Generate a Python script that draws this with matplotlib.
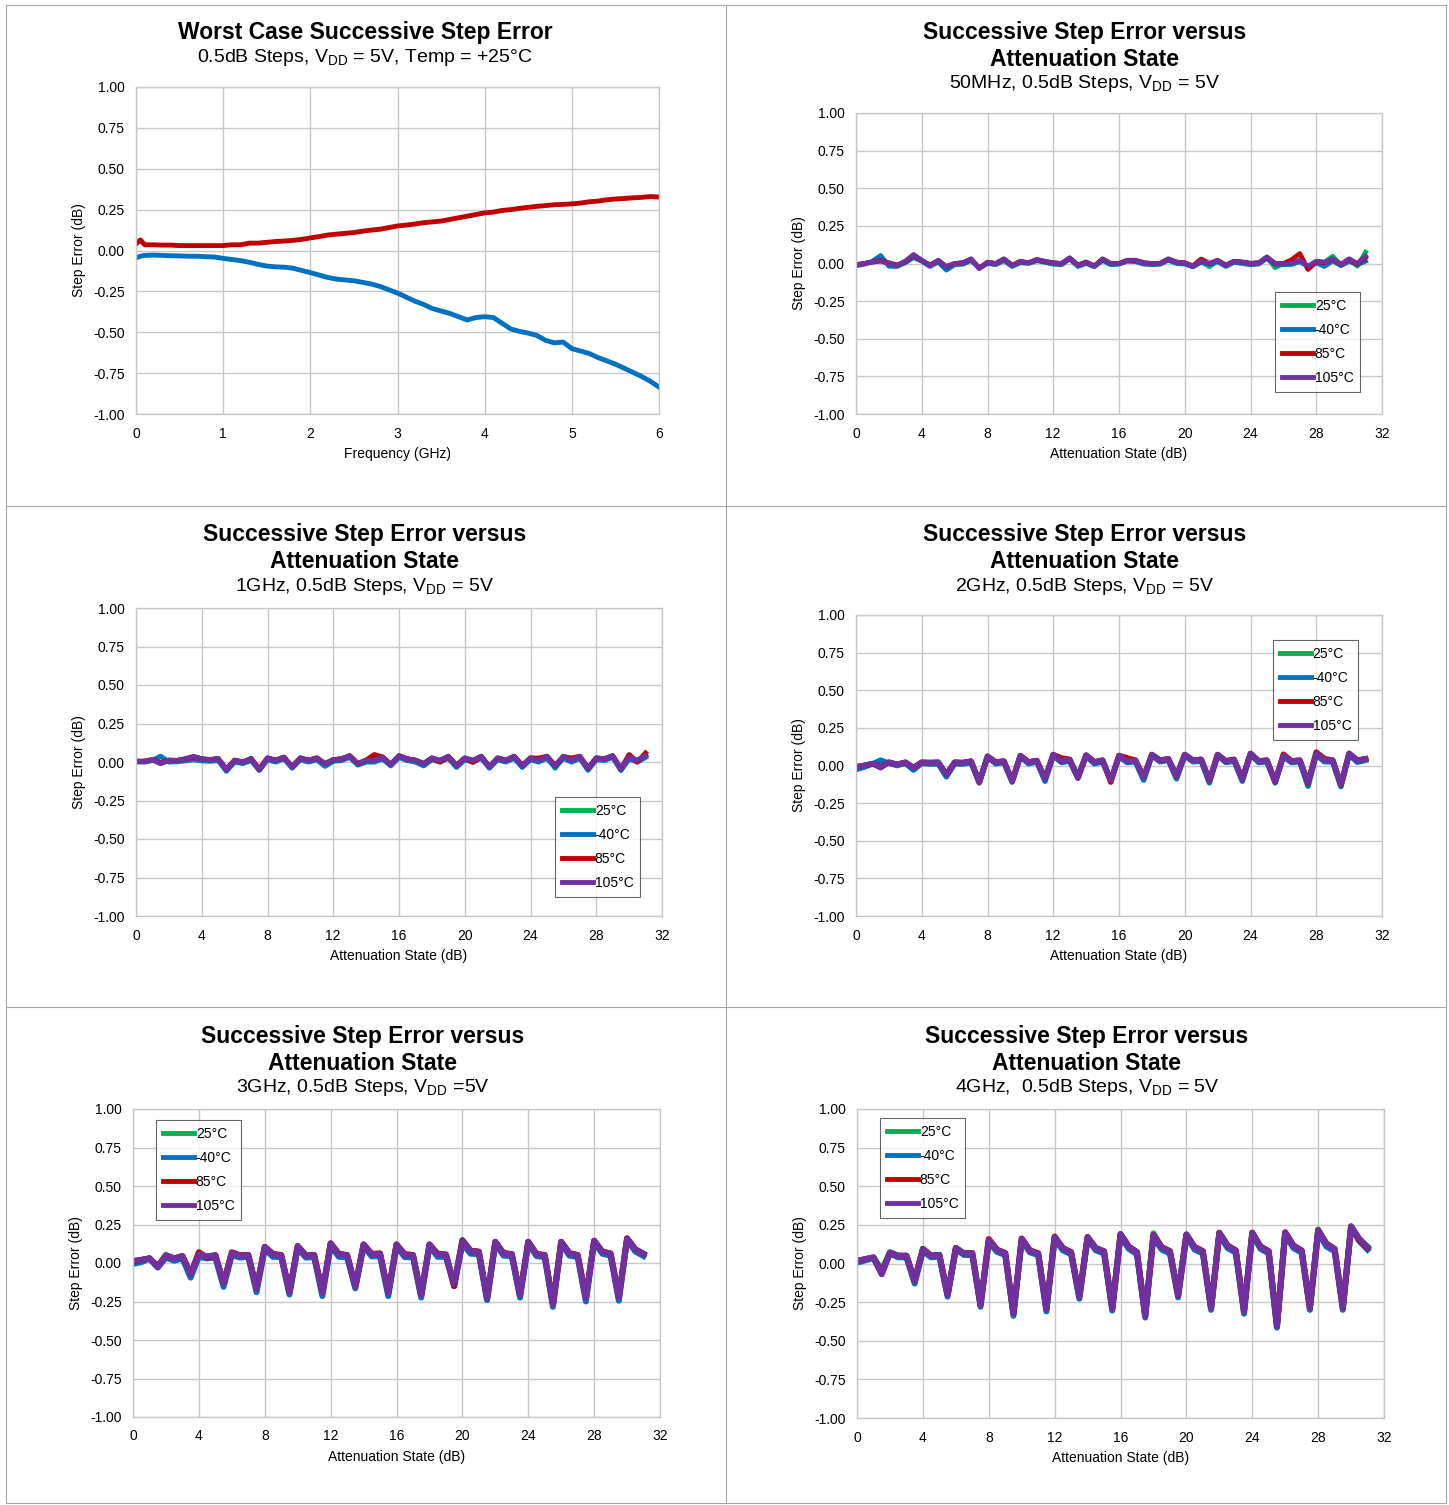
"""
Six-panel step-error figure: worst case vs frequency, then successive
step error vs attenuation state at 50MHz / 1GHz / 2GHz / 3GHz / 4GHz.
"""
import matplotlib

matplotlib.use("Agg")
import matplotlib.pyplot as plt  # noqa: E402
import numpy as np  # noqa: E402
from matplotlib.lines import Line2D  # noqa: E402

plt.rcParams["font.family"] = ["Liberation Sans", "DejaVu Sans"]
plt.rcParams["mathtext.fontset"] = "custom"
plt.rcParams["mathtext.rm"] = "Liberation Sans"

# ---- worst case vs frequency ----
freq_ghz = [0.0, 0.05] + [round(0.1 * i, 1) for i in range(1, 61)]
worst_pos = [0.04, 0.065,
             0.035, 0.035, 0.033, 0.033, 0.03, 0.03, 0.03, 0.03, 0.03, 0.03,
             0.035, 0.035, 0.045, 0.045, 0.05, 0.055, 0.058, 0.062, 0.068, 0.077,
             0.085, 0.095, 0.1, 0.105, 0.11, 0.118, 0.125, 0.13, 0.14, 0.15,
             0.155, 0.162, 0.17, 0.175, 0.18, 0.19, 0.2, 0.21, 0.22, 0.23,
             0.235, 0.245, 0.25, 0.258, 0.264, 0.27, 0.275, 0.28, 0.282, 0.285,
             0.29, 0.298, 0.302, 0.31, 0.315, 0.318, 0.322, 0.325, 0.33, 0.327]
worst_neg = [-0.045, -0.035,
             -0.03, -0.028, -0.03, -0.032, -0.033, -0.035, -0.035, -0.038, -0.04, -0.048,
             -0.055, -0.062, -0.072, -0.085, -0.095, -0.1, -0.102, -0.108, -0.122, -0.135,
             -0.15, -0.165, -0.175, -0.18, -0.185, -0.195, -0.205, -0.22, -0.24, -0.26,
             -0.285, -0.31, -0.33, -0.355, -0.37, -0.385, -0.405, -0.425, -0.41, -0.405,
             -0.41, -0.445, -0.48, -0.495, -0.505, -0.52, -0.55, -0.565, -0.56, -0.6,
             -0.615, -0.63, -0.655, -0.675, -0.695, -0.72, -0.745, -0.77, -0.8, -0.835]

# ---- attenuation state sweeps (0 .. 31 dB, 0.5 dB steps) ----
atten_db = np.arange(0, 31.5, 0.5)
temps = ["25°C", "-40°C", "85°C", "105°C"]
temp_colors = ["#00B050", "#0070C0", "#C00000", "#7030A0"]

mhz50_25 = [-0.008, 0.0, 0.01, 0.02, 0.002, -0.012, 0.015, 0.055,
            0.02, -0.012, 0.02, -0.025, 0.0, 0.004, 0.03, -0.03,
            0.008, 0.0, 0.03, -0.012, 0.014, 0.004, 0.026, 0.014,
            0.004, 0.0, 0.036, -0.012, 0.008, -0.018, 0.03, 0.0,
            0.0, 0.02, 0.02, 0.004, 0.0, 0.0, 0.03, 0.008,
            0.004, -0.022, 0.015, -0.022, 0.02, -0.014, 0.014, 0.008,
            0.0, 0.004, 0.042, -0.028, 0.0, 0.0, 0.02, -0.02,
            0.014, 0.008, 0.048, -0.01, 0.03, -0.018, 0.075]
mhz50_m40 = [-0.015, -0.005, 0.015, 0.053, -0.018, -0.02, 0.005, 0.04,
             0.015, -0.02, 0.01, -0.044, -0.008, -0.005, 0.02, -0.03,
             0.0, -0.008, 0.02, -0.02, 0.005, 0.0, 0.018, 0.008,
             -0.005, -0.008, 0.03, -0.02, 0.0, -0.022, 0.02, -0.008,
             -0.005, 0.015, 0.012, -0.004, -0.008, -0.005, 0.022, 0.0,
             -0.004, -0.022, 0.008, -0.008, 0.012, -0.02, 0.008, 0.0,
             -0.008, -0.004, 0.035, -0.01, -0.008, -0.006, 0.012, -0.02,
             0.004, -0.02, 0.018, -0.015, 0.015, -0.008, 0.015]
mhz50_85 = [-0.01, 0.0, 0.01, 0.02, 0.005, -0.01, 0.012, 0.055,
            0.02, -0.01, 0.018, -0.02, 0.0, 0.005, 0.028, -0.03,
            0.008, 0.0, 0.028, -0.01, 0.012, 0.005, 0.025, 0.012,
            0.005, 0.0, 0.035, -0.01, 0.01, -0.015, 0.028, 0.0,
            0.0, 0.02, 0.02, 0.005, 0.0, 0.002, 0.028, 0.01,
            0.005, -0.015, 0.03, 0.0, 0.02, -0.01, 0.015, 0.01,
            0.002, 0.005, 0.04, 0.0, 0.0, 0.025, 0.066, -0.04,
            0.012, 0.005, 0.028, -0.005, 0.028, -0.005, 0.04]
mhz50_105 = [-0.007, 0.0, 0.009, 0.015, 0.0, -0.013, 0.015, 0.06,
             0.022, -0.013, 0.022, -0.022, 0.0, 0.004, 0.031, -0.035,
             0.009, 0.0, 0.031, -0.013, 0.015, 0.004, 0.027, 0.015,
             0.004, 0.0, 0.038, -0.013, 0.009, -0.018, 0.031, 0.0,
             0.0, 0.022, 0.022, 0.004, 0.0, 0.0, 0.031, 0.009,
             0.004, -0.018, 0.015, 0.0, 0.022, -0.013, 0.015, 0.009,
             0.0, 0.004, 0.044, 0.0, 0.0, 0.0, 0.022, -0.018,
             0.015, 0.009, 0.031, -0.007, 0.031, 0.0, 0.049]

ghz1_25 = [0.004, 0.004, 0.015, -0.008, 0.011, 0.009, 0.02, 0.032,
           0.02, 0.015, 0.022, -0.048, 0.011, -0.002, 0.022, -0.048,
           0.026, 0.011, 0.03, -0.03, 0.026, 0.011, 0.026, -0.012,
           0.015, 0.02, 0.04, -0.012, 0.011, 0.02, 0.032, -0.016,
           0.04, 0.02, 0.011, -0.012, 0.026, 0.011, 0.036, -0.024,
           0.026, 0.011, 0.036, -0.032, 0.026, 0.011, 0.036, -0.026,
           0.026, 0.011, 0.036, -0.04, 0.036, 0.011, 0.036, -0.04,
           0.026, 0.02, 0.04, -0.045, 0.032, 0.011, 0.045]
ghz1_m40 = [0.0, 0.0, 0.01, 0.037, 0.0, 0.002, 0.008, 0.015,
            0.008, 0.005, 0.01, -0.06, 0.0, -0.01, 0.01, -0.055,
            0.015, 0.0, 0.022, -0.04, 0.015, 0.0, 0.015, -0.028,
            0.005, 0.01, 0.03, -0.02, 0.0, 0.0, 0.02, -0.025,
            0.03, 0.01, 0.0, -0.025, 0.015, 0.0, 0.025, -0.035,
            0.015, 0.0, 0.025, -0.04, 0.015, 0.0, 0.025, -0.035,
            0.015, 0.0, 0.025, -0.035, 0.025, 0.0, 0.025, -0.054,
            0.015, 0.01, 0.03, -0.055, 0.02, 0.0, 0.03]
ghz1_85 = [0.005, 0.005, 0.015, -0.005, 0.012, 0.01, 0.02, 0.03,
           0.02, 0.015, 0.022, -0.045, 0.012, 0.0, 0.022, -0.045,
           0.026, 0.012, 0.03, -0.03, 0.026, 0.012, 0.026, -0.01,
           0.015, 0.02, 0.04, -0.01, 0.012, 0.048, 0.032, -0.015,
           0.04, 0.02, 0.012, -0.01, 0.026, 0.0, 0.035, -0.02,
           0.026, -0.002, 0.037, -0.03, 0.026, 0.012, 0.037, -0.02,
           0.026, 0.025, 0.037, -0.022, 0.035, 0.025, 0.037, -0.04,
           0.026, 0.02, 0.04, -0.045, 0.048, 0.0, 0.058]
ghz1_105 = [0.004, 0.004, 0.015, -0.011, 0.011, 0.009, 0.02, 0.037,
            0.02, 0.015, 0.022, -0.05, 0.011, -0.002, 0.022, -0.05,
            0.026, 0.011, 0.032, -0.032, 0.026, 0.011, 0.026, -0.011,
            0.015, 0.02, 0.041, -0.011, 0.011, 0.011, 0.032, -0.017,
            0.041, 0.02, 0.011, -0.011, 0.026, 0.011, 0.037, -0.024,
            0.026, 0.011, 0.037, -0.032, 0.026, 0.011, 0.037, -0.024,
            0.026, 0.011, 0.037, -0.024, 0.037, 0.011, 0.037, -0.039,
            0.026, 0.02, 0.041, -0.045, 0.032, 0.011, 0.041]

ghz2_25 = [-0.01, 0.0, 0.012, -0.005, 0.021, 0.007, 0.021, -0.014,
           0.021, 0.018, 0.021, -0.06, 0.021, 0.018, 0.028, -0.11,
           0.061, 0.022, 0.028, -0.104, 0.065, 0.022, 0.032, -0.09,
           0.072, 0.03, 0.04, -0.076, 0.068, 0.022, 0.034, -0.1,
           0.065, 0.03, 0.034, -0.078, 0.072, 0.034, 0.044, -0.068,
           0.072, 0.034, 0.04, -0.1, 0.072, 0.03, 0.04, -0.09,
           0.078, 0.03, 0.034, -0.106, 0.066, 0.03, 0.034, -0.115,
           0.08, 0.035, 0.034, -0.13, 0.08, 0.034, 0.044]
ghz2_m40 = [-0.027, -0.01, 0.01, 0.035, 0.015, 0.0, 0.015, -0.03,
            0.015, 0.01, 0.012, -0.075, 0.012, 0.01, 0.02, -0.115,
            0.055, 0.012, 0.02, -0.11, 0.058, 0.012, 0.025, -0.104,
            0.066, 0.02, 0.03, -0.085, 0.062, 0.012, 0.025, -0.1,
            0.058, 0.02, 0.025, -0.097, 0.066, 0.025, 0.035, -0.088,
            0.066, 0.025, 0.03, -0.115, 0.066, 0.02, 0.03, -0.104,
            0.072, 0.02, 0.025, -0.115, 0.058, 0.02, 0.025, -0.137,
            0.072, 0.025, 0.025, -0.14, 0.072, 0.022, 0.035]
ghz2_85 = [-0.008, 0.0, 0.012, -0.01, 0.02, 0.008, 0.02, -0.012,
           0.02, 0.02, 0.02, -0.058, 0.02, 0.02, 0.028, -0.112,
           0.06, 0.024, 0.028, -0.1, 0.064, 0.024, 0.032, -0.085,
           0.072, 0.05, 0.04, -0.08, 0.068, 0.024, 0.035, -0.11,
           0.066, 0.05, 0.035, -0.075, 0.072, 0.035, 0.044, -0.07,
           0.072, 0.035, 0.04, -0.1, 0.072, 0.03, 0.04, -0.09,
           0.08, 0.03, 0.035, -0.108, 0.075, 0.03, 0.035, -0.115,
           0.089, 0.045, 0.035, -0.128, 0.08, 0.035, 0.044]
ghz2_105 = [-0.01, 0.0, 0.013, -0.015, 0.022, 0.007, 0.022, -0.015,
            0.022, 0.018, 0.022, -0.06, 0.022, 0.018, 0.029, -0.11,
            0.062, 0.022, 0.029, -0.104, 0.066, 0.022, 0.033, -0.088,
            0.073, 0.029, 0.04, -0.075, 0.069, 0.022, 0.035, -0.097,
            0.066, 0.029, 0.035, -0.075, 0.073, 0.035, 0.044, -0.066,
            0.073, 0.035, 0.04, -0.097, 0.073, 0.029, 0.04, -0.088,
            0.08, 0.029, 0.035, -0.104, 0.066, 0.029, 0.035, -0.11,
            0.08, 0.035, 0.035, -0.126, 0.08, 0.035, 0.044]

ghz3_25 = [0.012, 0.02, 0.03, -0.024, 0.05, 0.028, 0.045, -0.075,
           0.058, 0.042, 0.05, -0.135, 0.066, 0.048, 0.05, -0.168,
           0.104, 0.054, 0.05, -0.192, 0.11, 0.046, 0.05, -0.195,
           0.126, 0.056, 0.05, -0.152, 0.12, 0.056, 0.06, -0.198,
           0.12, 0.05, 0.05, -0.212, 0.12, 0.054, 0.054, -0.14,
           0.15, 0.08, 0.072, -0.24, 0.137, 0.06, 0.056, -0.212,
           0.137, 0.056, 0.05, -0.272, 0.137, 0.06, 0.05, -0.232,
           0.143, 0.072, 0.06, -0.228, 0.159, 0.087, 0.058]
ghz3_m40 = [-0.005, 0.005, 0.03, -0.03, 0.035, 0.015, 0.03, -0.095,
            0.04, 0.03, 0.035, -0.155, 0.05, 0.035, 0.04, -0.19,
            0.09, 0.04, 0.038, -0.205, 0.095, 0.035, 0.038, -0.215,
            0.11, 0.04, 0.038, -0.165, 0.108, 0.042, 0.045, -0.215,
            0.108, 0.038, 0.038, -0.225, 0.108, 0.04, 0.04, -0.15,
            0.125, 0.06, 0.058, -0.24, 0.125, 0.048, 0.045, -0.225,
            0.125, 0.045, 0.038, -0.285, 0.125, 0.048, 0.038, -0.25,
            0.135, 0.06, 0.048, -0.245, 0.15, 0.075, 0.045]
ghz3_85 = [0.01, 0.02, 0.03, -0.02, 0.05, 0.03, 0.045, -0.07,
           0.07, 0.035, 0.05, -0.13, 0.07, 0.05, 0.052, -0.165,
           0.105, 0.06, 0.052, -0.185, 0.11, 0.05, 0.052, -0.19,
           0.128, 0.06, 0.052, -0.15, 0.12, 0.06, 0.062, -0.19,
           0.12, 0.058, 0.052, -0.205, 0.12, 0.06, 0.056, -0.15,
           0.145, 0.08, 0.074, -0.225, 0.138, 0.065, 0.058, -0.205,
           0.138, 0.06, 0.052, -0.265, 0.138, 0.065, 0.052, -0.225,
           0.145, 0.075, 0.062, -0.22, 0.16, 0.09, 0.06]
ghz3_105 = [0.013, 0.02, 0.03, -0.026, 0.05, 0.028, 0.045, -0.074,
            0.056, 0.043, 0.05, -0.135, 0.065, 0.048, 0.05, -0.167,
            0.104, 0.054, 0.05, -0.19, 0.109, 0.046, 0.05, -0.193,
            0.126, 0.056, 0.05, -0.152, 0.12, 0.056, 0.06, -0.196,
            0.12, 0.05, 0.05, -0.21, 0.12, 0.054, 0.054, -0.135,
            0.137, 0.076, 0.072, -0.23, 0.137, 0.06, 0.056, -0.21,
            0.137, 0.056, 0.05, -0.27, 0.137, 0.06, 0.05, -0.23,
            0.143, 0.072, 0.06, -0.226, 0.159, 0.087, 0.056]

ghz4_25 = [0.017, 0.028, 0.039, -0.04, 0.072, 0.05, 0.05, -0.113,
           0.093, 0.05, 0.056, -0.204, 0.1, 0.065, 0.067, -0.27,
           0.152, 0.087, 0.067, -0.34, 0.159, 0.083, 0.065, -0.298,
           0.17, 0.098, 0.072, -0.217, 0.17, 0.098, 0.078, -0.293,
           0.19, 0.109, 0.072, -0.34, 0.195, 0.104, 0.078, -0.2,
           0.187, 0.104, 0.078, -0.29, 0.198, 0.115, 0.083, -0.31,
           0.198, 0.109, 0.078, -0.407, 0.2, 0.115, 0.083, -0.287,
           0.22, 0.126, 0.093, -0.287, 0.24, 0.159, 0.11]
ghz4_m40 = [0.005, 0.02, 0.035, -0.065, 0.065, 0.04, 0.04, -0.13,
            0.08, 0.04, 0.045, -0.215, 0.09, 0.055, 0.055, -0.28,
            0.14, 0.075, 0.055, -0.33, 0.148, 0.072, 0.055, -0.31,
            0.158, 0.085, 0.06, -0.228, 0.158, 0.085, 0.065, -0.305,
            0.178, 0.095, 0.06, -0.35, 0.172, 0.09, 0.065, -0.22,
            0.175, 0.09, 0.065, -0.3, 0.185, 0.1, 0.07, -0.325,
            0.185, 0.095, 0.065, -0.415, 0.188, 0.1, 0.07, -0.3,
            0.2, 0.11, 0.08, -0.3, 0.228, 0.145, 0.09]
ghz4_85 = [0.015, 0.028, 0.039, -0.06, 0.07, 0.05, 0.05, -0.11,
           0.095, 0.05, 0.056, -0.2, 0.1, 0.065, 0.067, -0.265,
           0.158, 0.09, 0.068, -0.32, 0.162, 0.085, 0.066, -0.29,
           0.175, 0.1, 0.074, -0.21, 0.172, 0.1, 0.08, -0.29,
           0.19, 0.11, 0.074, -0.335, 0.186, 0.106, 0.08, -0.205,
           0.188, 0.108, 0.08, -0.285, 0.2, 0.116, 0.085, -0.305,
           0.2, 0.11, 0.08, -0.4, 0.202, 0.116, 0.085, -0.285,
           0.215, 0.13, 0.095, -0.285, 0.24, 0.15, 0.1]
ghz4_105 = [0.017, 0.028, 0.039, -0.07, 0.072, 0.05, 0.05, -0.113,
            0.093, 0.05, 0.056, -0.204, 0.1, 0.065, 0.067, -0.27,
            0.152, 0.087, 0.067, -0.326, 0.159, 0.083, 0.065, -0.298,
            0.17, 0.098, 0.072, -0.217, 0.17, 0.098, 0.078, -0.293,
            0.19, 0.109, 0.072, -0.34, 0.185, 0.104, 0.078, -0.2,
            0.187, 0.104, 0.078, -0.29, 0.198, 0.115, 0.083, -0.31,
            0.198, 0.109, 0.078, -0.407, 0.2, 0.115, 0.083, -0.287,
            0.213, 0.126, 0.093, -0.287, 0.24, 0.159, 0.104]

W, H = 1449, 1505
GRID = "#C8C8C8"
SUB = r"V$_{\mathregular{DD}}$"


def px_axes(fig, x0, y0, x1, y1):
    """Add axes from pixel box (top-left origin)."""
    return fig.add_axes([x0 / W, 1 - y1 / H, (x1 - x0) / W, (y1 - y0) / H])


def style_axes(ax, xticks, xlabel):
    ax.set_ylim(-1, 1)
    ax.set_yticks(np.arange(-1, 1.01, 0.25))
    ax.set_yticklabels([f"{v:.2f}" for v in np.arange(-1, 1.01, 0.25)])
    ax.set_xlim(xticks[0], xticks[-1])
    ax.set_xticks(xticks)
    ax.grid(True, color=GRID, lw=1.0)
    ax.set_axisbelow(True)
    for s in ax.spines.values():
        s.set_color(GRID)
        s.set_linewidth(1.0)
    ax.tick_params(axis="y", length=0, labelsize=10, pad=8)
    ax.tick_params(axis="x", length=0, labelsize=10, pad=9)
    ax.set_xlabel(xlabel, fontsize=10, labelpad=5)
    ax.set_ylabel("Step Error (dB)", fontsize=10, labelpad=5)


def titles(fig, xc, ys, lines):
    for y, (txt, bold) in zip(ys, lines):
        fig.text(xc / W, 1 - y / H, txt, ha="center", va="center",
                 fontsize=16.5 if bold else 14,
                 fontweight="bold" if bold else "normal")


def temp_panel(fig, box, series, lw, leg_anchor):
    ax = px_axes(fig, *box)
    for vals, lab, col in zip(series, temps, temp_colors):
        ax.plot(atten_db, vals, color=col, lw=lw, label=lab,
                solid_joinstyle="round")
    style_axes(ax, list(range(0, 33, 4)), "Attenuation State (dB)")
    leg = ax.legend(loc="upper left", bbox_to_anchor=leg_anchor, fontsize=10,
                    fancybox=False, handlelength=2.2, handletextpad=0.15,
                    labelspacing=0.72, borderpad=0.5, borderaxespad=0)
    leg.get_frame().set_edgecolor("#404040")
    leg.get_frame().set_linewidth(0.8)
    for h in leg.get_lines():
        h.set_linewidth(3.5)
    return ax


fig = plt.figure(figsize=(W / 100, H / 100), dpi=100)

# panel 1: worst case vs frequency
ax1 = px_axes(fig, 136, 87, 659, 414)
ax1.plot(freq_ghz, worst_pos, color="#C00000", lw=3.5)
ax1.plot(freq_ghz, worst_neg, color="#0070C0", lw=3.5)
style_axes(ax1, list(range(0, 7)), "Frequency (GHz)")
titles(fig, 365, [33, 58], [("Worst Case Successive Step Error", True),
                            (f"0.5dB Steps, {SUB} = 5V, Temp = +25°C", False)])

head = ("Successive Step Error versus", True)
head2 = ("Attenuation State", True)

temp_panel(fig, (856, 113, 1382, 414),
           [mhz50_25, mhz50_m40, mhz50_85, mhz50_105], 3.4, (0.797, 0.405))
titles(fig, 1085, [33, 60, 84], [head, head2, (f"50MHz, 0.5dB Steps, {SUB} = 5V", False)])

temp_panel(fig, (136, 608, 662, 916),
           [ghz1_25, ghz1_m40, ghz1_85, ghz1_105], 3.6, (0.797, 0.386))
titles(fig, 365, [535, 562, 587], [head, head2, (f"1GHz, 0.5dB Steps, {SUB} = 5V", False)])

temp_panel(fig, (856, 615, 1382, 916),
           [ghz2_25, ghz2_m40, ghz2_85, ghz2_105], 4.0, (0.793, 0.917))
titles(fig, 1085, [535, 562, 587], [head, head2, (f"2GHz, 0.5dB Steps, {SUB} = 5V", False)])

temp_panel(fig, (133, 1109, 660, 1417),
           [ghz3_25, ghz3_m40, ghz3_85, ghz3_105], 4.3, (0.044, 0.964))
titles(fig, 363, [1036, 1063, 1088], [head, head2, (f"3GHz, 0.5dB Steps, {SUB} =5V", False)])

temp_panel(fig, (857, 1109, 1384, 1418),
           [ghz4_25, ghz4_m40, ghz4_85, ghz4_105], 4.3, (0.044, 0.971))
titles(fig, 1087, [1036, 1063, 1088], [head, head2, (f"4GHz,  0.5dB Steps, {SUB} = 5V", False)])

# cell borders
for xs, ys in [([6, 1446], [5, 5]), ([6, 1446], [1503, 1503]),
               ([6, 6], [5, 1503]), ([1446, 1446], [5, 1503]),
               ([726, 726], [5, 1503]), ([6, 1446], [506, 506]),
               ([6, 1446], [1007, 1007])]:
    fig.add_artist(Line2D([x / W for x in xs], [1 - y / H for y in ys],
                          color="#A6A6A6", lw=0.8))

fig.savefig("out.png", dpi=100)
print("saved out.png")
